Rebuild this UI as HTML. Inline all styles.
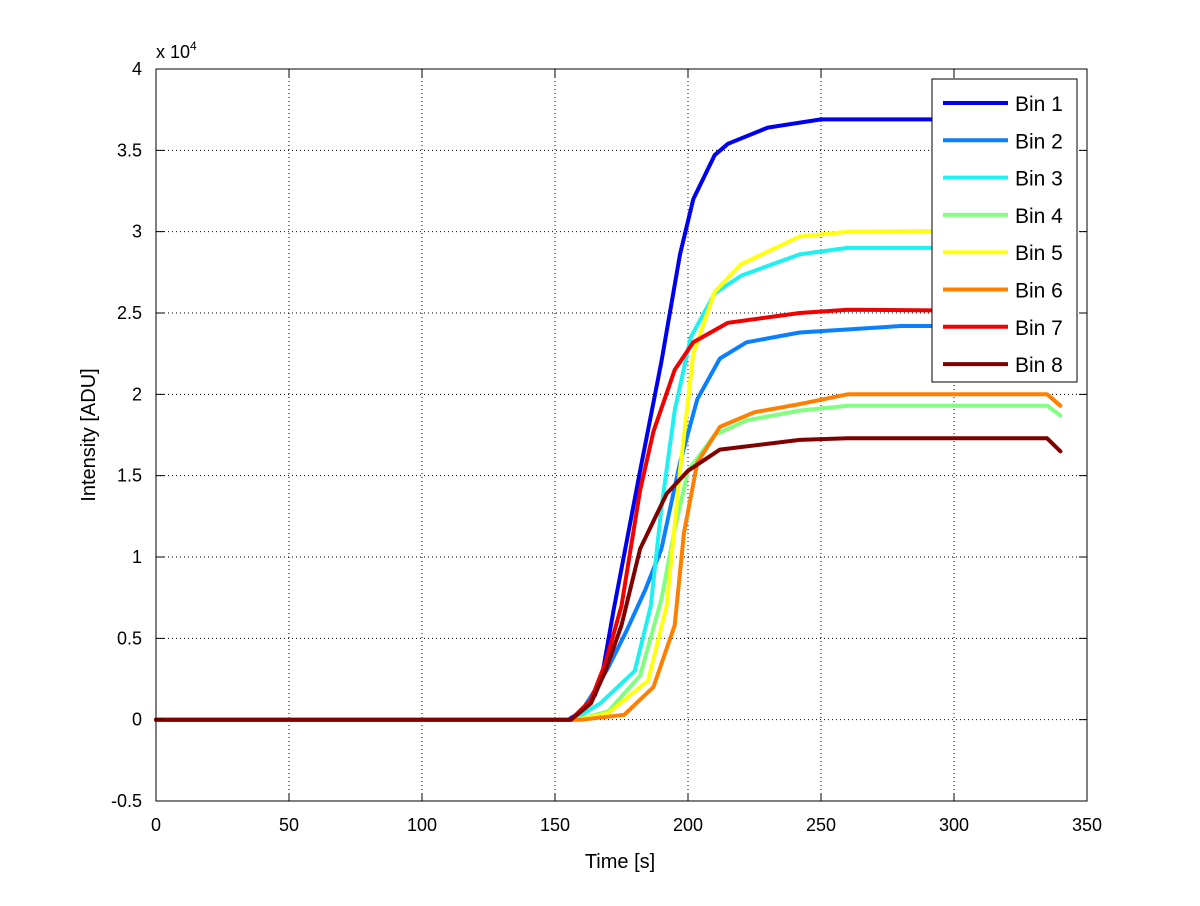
<!DOCTYPE html>
<html><head><meta charset="utf-8"><style>
body{margin:0;background:#fff}
svg text{font-family:"Liberation Sans",Arial,sans-serif;fill:#000}
</style></head><body>
<svg id="chart" width="1200" height="901" xmlns="http://www.w3.org/2000/svg">
<rect width="1200" height="901" fill="#fff"/>
<g id="grid"></g><g id="series"></g><g id="axes"></g><g id="legend"></g>
</svg>
<script>
const xTicks=[0,50,100,150,200,250,300,350];
const yTicks=[-0.5,0,0.5,1,1.5,2,2.5,3,3.5,4];
const yTickLabels=["-0.5","0","0.5","1","1.5","2","2.5","3","3.5","4"];
const seriesNames=["Bin 1","Bin 2","Bin 3","Bin 4","Bin 5","Bin 6","Bin 7","Bin 8"];
const seriesColors=["#0000f0","#0a80ff","#20f0f0","#80ff80","#ffff10","#ff8000","#f00000","#800000"];
const t1=[0,155,160,165,168,172,182,190,197,202,210,215,230,250,290,340];
const v1=[0,0,0.05,0.15,0.3,0.67,1.53,2.2,2.86,3.2,3.47,3.54,3.64,3.69,3.69,3.69];
const t2=[0,156,161,165,170,177,184,190,197,203.5,212,222,242,280,335,340];
const v2=[0,0,0.08,0.18,0.32,0.55,0.8,1.05,1.58,1.97,2.22,2.32,2.38,2.42,2.42,2.36];
const t3=[0,157,167,180,186,190,195,201,210,220,242,260,335,340];
const v3=[0,0,0.1,0.3,0.7,1.3,1.9,2.35,2.62,2.73,2.86,2.9,2.9,2.87];
const t4=[0,158,170,182,190,195,200,210,222,242,260,335,340];
const v4=[0,0,0.05,0.27,0.74,1.17,1.53,1.75,1.84,1.9,1.93,1.93,1.87];
const t5=[0,158,170,185,192,197,202,210,220,242,260,340];
const v5=[0,0,0.04,0.24,0.7,1.53,2.25,2.63,2.8,2.97,3.0,3.01];
const t6=[0,160,176,187,195,198.5,203.5,212,225,242,260,335,340];
const v6=[0,0,0.03,0.2,0.58,1.15,1.58,1.8,1.89,1.94,2.0,2.0,1.93];
const t7=[0,156,163.5,169,175,182,187,195,202,215,242,260,335,340];
const v7=[0,0,0.12,0.35,0.7,1.41,1.77,2.15,2.32,2.44,2.5,2.52,2.51,2.48];
const t8=[0,156,163.5,169,175,182,192,200,212,242,260,335,340];
const v8=[0,0,0.1,0.3,0.58,1.05,1.39,1.53,1.66,1.72,1.73,1.73,1.65];
const seriesT=[t1,t2,t3,t4,t5,t6,t7,t8];
const seriesV=[v1,v2,v3,v4,v5,v6,v7,v8];

const L=156,R=1087,T=69,B=801;
const xS=t=>L+(t-0)/(350-0)*(R-L);
const yS=v=>B-(v+0.5)/(4.5)*(B-T);
const NS="http://www.w3.org/2000/svg";
function mk(tag,attrs,parent){const e=document.createElementNS(NS,tag);for(const k in attrs)e.setAttribute(k,attrs[k]);parent.appendChild(e);return e;}
const grid=document.getElementById('grid'),axes=document.getElementById('axes'),ser=document.getElementById('series'),leg=document.getElementById('legend');
xTicks.forEach((t,i)=>{
  const x=xS(t);
  if(i>0&&i<xTicks.length-1){const g=mk('line',{x1:x,x2:x,y1:T,y2:B,stroke:'#000','stroke-width':1,'stroke-dasharray':'1 3'},grid);
  
  }
  const tk=mk('path',{d:`M${x},${B}v-8M${x},${T}v8`,stroke:'#000','stroke-width':1},axes);
  
  
  const tx=mk('text',{x:x,y:B+30,'text-anchor':'middle','font-size':18},axes);tx.textContent=t;
  
  
});
yTicks.forEach((v,i)=>{
  const y=yS(v);
  if(i>0&&i<yTicks.length-1){const g=mk('line',{x1:L,x2:R,y1:y,y2:y,stroke:'#000','stroke-width':1,'stroke-dasharray':'1 3'},grid);
  
  }
  const tk=mk('path',{d:`M${L},${y}h8M${R},${y}h-8`,stroke:'#000','stroke-width':1},axes);
  
  
  const tx=mk('text',{x:L-14,y:y+6,'text-anchor':'end','font-size':18},axes);tx.textContent=yTickLabels[i];
  
  
});
const box=mk('rect',{x:L,y:T,width:R-L,height:B-T,fill:'none',stroke:'#000','stroke-width':1},axes);


const ex=mk('text',{x:156,y:58,'font-size':18},axes);ex.innerHTML='x 10<tspan dy="-8" font-size="12">4</tspan>';


const xt=mk('text',{x:620,y:868,'text-anchor':'middle','font-size':20},axes);xt.textContent='Time [s]';


const yt=mk('text',{x:0,y:0,'text-anchor':'middle','font-size':20,transform:'translate(95,435) rotate(-90)'},axes);yt.textContent='Intensity [ADU]';


seriesT.forEach((ts,i)=>{
  const pts=ts.map((t,j)=>xS(t).toFixed(1)+','+yS(seriesV[i][j]).toFixed(1)).join(' ');
  const p=mk('polyline',{points:pts,fill:'none',stroke:seriesColors[i],'stroke-width':4,'stroke-linejoin':'round','stroke-linecap':'round'},ser);
  
  
});
const lb=mk('rect',{x:932,y:79,width:145,height:303,fill:'#fff',stroke:'#000','stroke-width':1},leg);


seriesNames.forEach((n,i)=>{
  const y=103+i*37.3;
  const l=mk('line',{x1:943,x2:1008,y1:y,y2:y,stroke:seriesColors[i],'stroke-width':4},leg);
  
  
  const tx=mk('text',{x:1015,y:y+8,'font-size':21},leg);tx.textContent=n;
  
  
});
</script>
</body></html>
